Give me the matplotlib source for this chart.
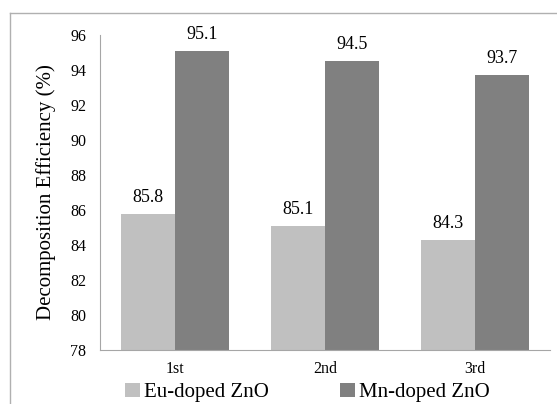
import numpy as np
import matplotlib.pyplot as plt
from matplotlib.lines import Line2D

cycles = ['1st', '2nd', '3rd']
eu_doped = [85.8, 85.1, 84.3]
mn_doped = [95.1, 94.5, 93.7]

plt.rcParams['font.family'] = ['Liberation Serif', 'DejaVu Serif']

W, H = 557, 404
fig = plt.figure(figsize=(W / 100, H / 100), dpi=100)
ax = fig.add_axes([100 / W, 1 - 350 / H, 450 / W, 315 / H])

x = np.arange(len(cycles))
w = 0.36
b1 = ax.bar(x - w / 2, eu_doped, w, color='#c0c0c0', label='Eu-doped ZnO')
b2 = ax.bar(x + w / 2, mn_doped, w, color='#808080', label='Mn-doped ZnO')

for bars, vals in [(b1, eu_doped), (b2, mn_doped)]:
    for r, v in zip(bars, vals):
        ax.text(r.get_x() + r.get_width() / 2, v + 0.45, '%.1f' % v,
                ha='center', va='bottom', fontsize=13)

ax.set_xlim(-0.5, 2.5)
ax.set_ylim(78, 96)
ax.set_yticks(np.arange(78, 97, 2))
ax.set_xticks(x)
ax.set_xticklabels(cycles)
ax.tick_params(length=0, labelsize=11.5)
ax.tick_params(axis='y', pad=10)
ax.tick_params(axis='x', pad=8)
for s in ['top', 'right']:
    ax.spines[s].set_visible(False)
for s in ['left', 'bottom']:
    ax.spines[s].set_color('#a6a6a6')
ax.set_ylabel('Decomposition Efficiency (%)', fontsize=15, labelpad=10)

ax.legend(loc='upper center', bbox_to_anchor=(0.461, -0.078), ncol=2, frameon=False,
          fontsize=15, handlelength=0.7, handleheight=0.7, handletextpad=0.2,
          columnspacing=3.4, borderaxespad=0)

# outer frame
fig.add_artist(Line2D([10 / W, 10 / W], [0, 1 - 13 / H], color='#b0b0b0', lw=1))
fig.add_artist(Line2D([10 / W, 1], [1 - 13 / H, 1 - 13 / H], color='#b0b0b0', lw=1))

fig.savefig('out.png', dpi=100)
